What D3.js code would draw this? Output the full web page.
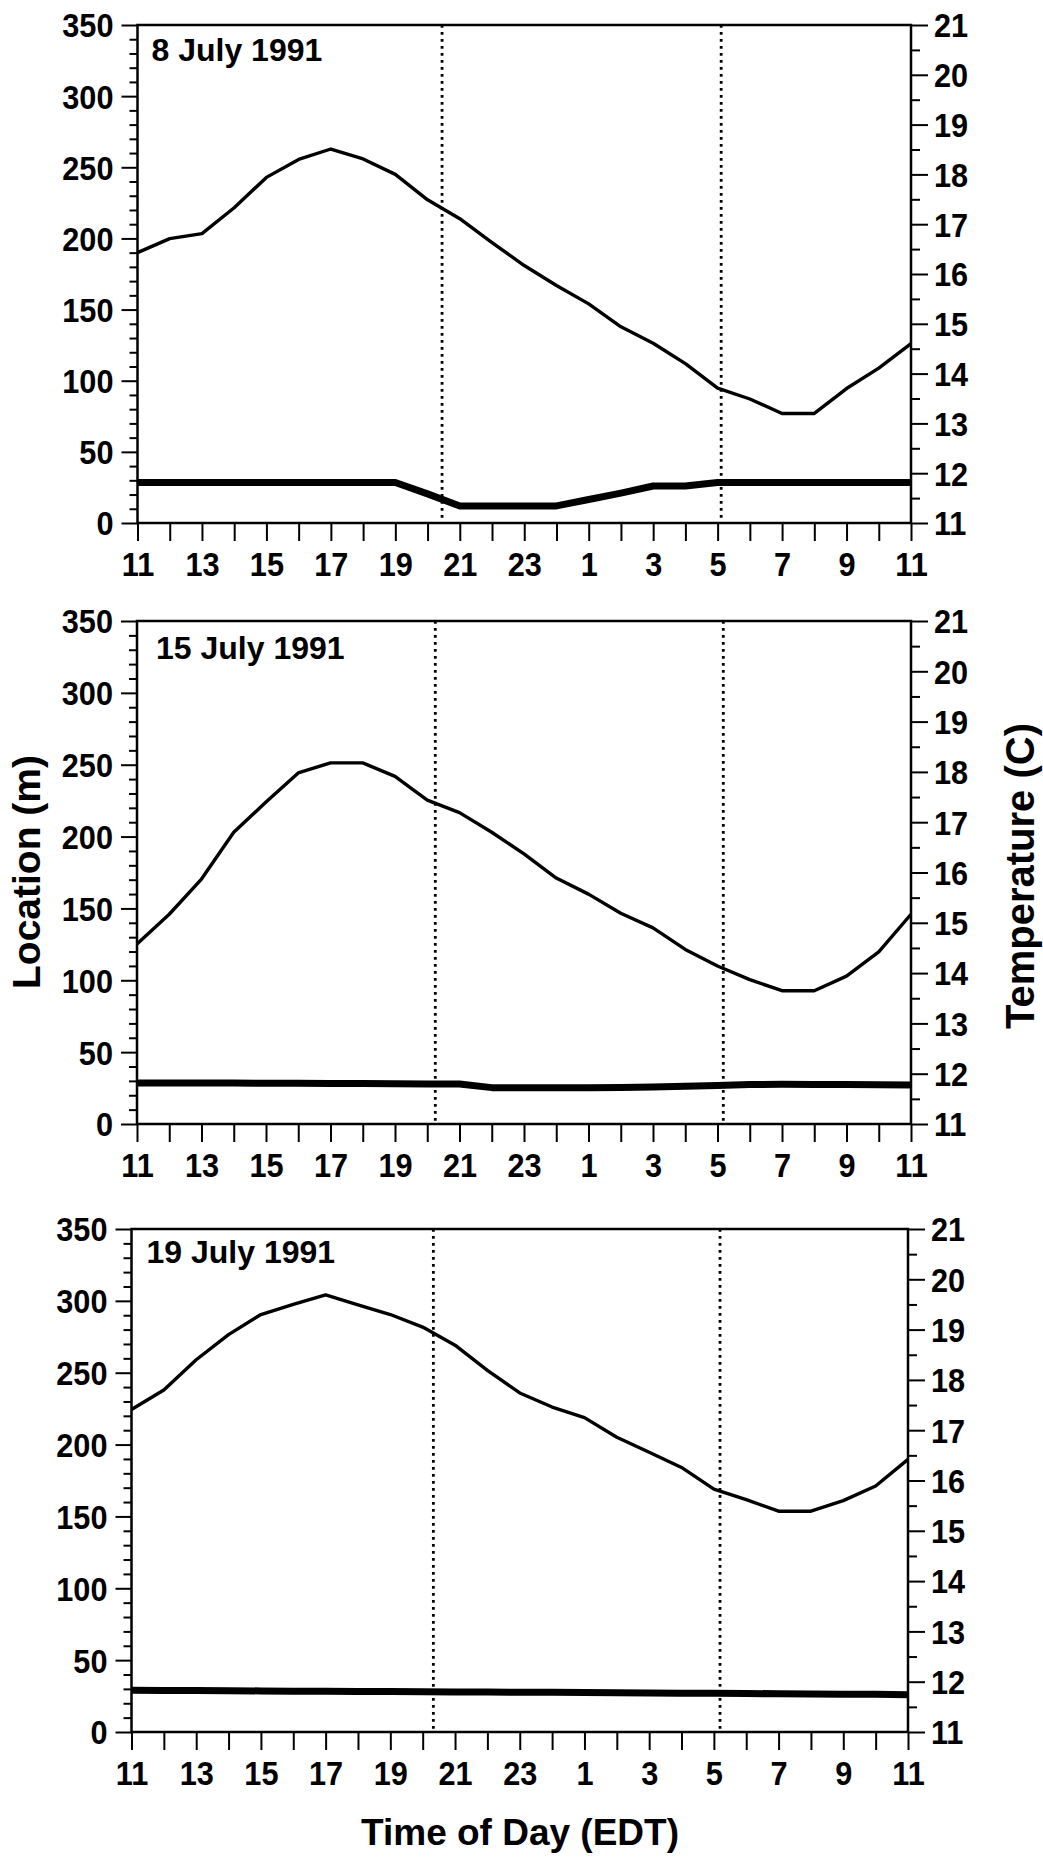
<!DOCTYPE html>
<html><head><meta charset="utf-8">
<script src="https://cdn.jsdelivr.net/npm/d3@7/dist/d3.min.js"></script>
<style>
body{margin:0;background:#fff}
text{font-family:"Liberation Sans",Arial,sans-serif;font-weight:bold;fill:#000}
.tl text{transform-box:fill-box;transform-origin:right center;transform:scaleX(0.93)}
.tr text{transform-box:fill-box;transform-origin:left center;transform:scaleX(0.93)}
.tb text{transform-box:fill-box;transform-origin:center center;transform:scaleX(0.93)}
</style>
</head><body>
<svg id="chart" width="1043" height="1859"></svg>
<script>
// ---- data ----
// hourly samples, 11:00 EDT through 11:00 next day (index 0..24)
const timeOfDay = [11,12,13,14,15,16,17,18,19,20,21,22,23,0,1,2,3,4,5,6,7,8,9,10,11];
const xTickLabels = ["11","13","15","17","19","21","23","1","3","5","7","9","11"];
const dates = ["8 July 1991","15 July 1991","19 July 1991"];

// Temperature (C), thin line, right axis
const temp_8July = [16.43,16.71,16.81,17.33,17.94,18.30,18.51,18.31,18.00,17.49,17.11,16.63,16.17,15.77,15.40,14.94,14.61,14.20,13.71,13.49,13.20,13.20,13.70,14.11,14.60];
const temp_15July = [14.58,15.17,15.87,16.80,17.40,17.98,18.18,18.18,17.91,17.44,17.19,16.80,16.37,15.89,15.57,15.19,14.90,14.47,14.14,13.87,13.65,13.65,13.94,14.42,15.17];
const temp_19July = [17.41,17.80,18.40,18.90,19.30,19.50,19.69,19.49,19.30,19.05,18.69,18.19,17.74,17.46,17.25,16.86,16.56,16.26,15.83,15.62,15.39,15.39,15.60,15.89,16.42];

// Location (m), thick line, left axis
const loc_8July = [28.5,28.5,28.5,28.5,28.5,28.5,28.5,28.5,28.5,20.5,12,12,12,12,16.5,21,26,26,28.5,28.5,28.5,28.5,28.5,28.5,28.5];
const loc_15July = [28.6,28.6,28.5,28.5,28.4,28.3,28.2,28.1,28.0,27.9,27.9,25.3,25.2,25.2,25.2,25.4,25.7,26.2,26.8,27.4,27.6,27.5,27.4,27.3,27.2];
const loc_19July = [29.0,28.9,28.8,28.7,28.6,28.4,28.3,28.2,28.1,28.0,27.9,27.8,27.7,27.6,27.5,27.3,27.2,27.0,26.9,26.8,26.6,26.5,26.3,26.2,26.0];

// dotted lines (hour of day, EDT): sunset, sunrise
const sunset = [20.45,20.25,20.33];
const sunrise = [5.11,5.18,5.19];

const locTicks = [0,50,100,150,200,250,300,350];
const tempTicks = [11,12,13,14,15,16,17,18,19,20,21];

// ---- layout ----
const panels = [
  {left:137.5, right:911, top:25, bottom:523, dateX:14, dateY:36},
  {left:137, right:911, top:621, bottom:1124, dateX:19, dateY:38},
  {left:131.5, right:908, top:1229, bottom:1732, dateX:15, dateY:34}
];
const tempSeries = [temp_8July, temp_15July, temp_19July];
const locSeries = [loc_8July, loc_15July, loc_19July];

const svg = d3.select("#chart");

function hourToIndex(h){ return h >= 11 ? h - 11 : h + 13; }

const tickFont = "33px";

panels.forEach((p, k) => {
  const g = svg.append("g");
  const x = d3.scaleLinear().domain([0,24]).range([p.left, p.right]);
  const yL = d3.scaleLinear().domain([0,350]).range([p.bottom, p.top]);
  const yR = d3.scaleLinear().domain([11,21]).range([p.bottom, p.top]);

  // minor ticks left
  g.append("g").attr("transform",`translate(${p.left},0)`)
    .call(d3.axisLeft(yL).tickValues(d3.range(0,351,10).filter(v=>v%50!==0)).tickSize(8).tickFormat(""))
    .call(a=>a.select(".domain").remove())
    .call(a=>a.selectAll("line").attr("stroke","#000").attr("stroke-width",2));
  // major ticks left
  g.append("g").attr("class","tl").attr("transform",`translate(${p.left},0)`)
    .call(d3.axisLeft(yL).tickValues(locTicks).tickSize(16).tickPadding(8))
    .call(a=>a.select(".domain").remove())
    .call(a=>a.selectAll("line").attr("stroke","#000").attr("stroke-width",2))
    .call(a=>a.selectAll("text").style("font-size",tickFont).attr("font-family",null).attr("dy","0.36em"));

  // right minor
  g.append("g").attr("transform",`translate(${p.right},0)`)
    .call(d3.axisRight(yR).tickValues(d3.range(11.5,21,1)).tickSize(9).tickFormat(""))
    .call(a=>a.select(".domain").remove())
    .call(a=>a.selectAll("line").attr("stroke","#000").attr("stroke-width",2));
  g.append("g").attr("class","tr").attr("transform",`translate(${p.right},0)`)
    .call(d3.axisRight(yR).tickValues(tempTicks).tickSize(17).tickPadding(6))
    .call(a=>a.select(".domain").remove())
    .call(a=>a.selectAll("line").attr("stroke","#000").attr("stroke-width",2))
    .call(a=>a.selectAll("text").style("font-size",tickFont).attr("font-family",null).attr("dy","0.36em"));

  // bottom
  g.append("g").attr("class","tb").attr("transform",`translate(0,${p.bottom})`)
    .call(d3.axisBottom(x).tickValues(d3.range(0,25)).tickSize(18).tickPadding(12)
      .tickFormat(i => i % 2 === 0 ? xTickLabels[i/2] : ""))
    .call(a=>a.select(".domain").remove())
    .call(a=>a.selectAll("line").attr("stroke","#000").attr("stroke-width",2))
    .call(a=>a.selectAll("text").style("font-size",tickFont).attr("font-family",null));

  // frame
  g.append("rect").attr("x",p.left).attr("y",p.top)
    .attr("width",p.right-p.left).attr("height",p.bottom-p.top)
    .attr("fill","none").attr("stroke","#000").attr("stroke-width",2.5);

  // dotted lines
  [sunset[k], sunrise[k]].forEach(h => {
    const xi = x(hourToIndex(h));
    g.append("line").attr("x1",xi).attr("x2",xi).attr("y1",p.top).attr("y2",p.bottom)
      .attr("stroke","#000").attr("stroke-width",2.8).attr("stroke-dasharray","2.8,4.2");
  });

  // temperature (thin)
  g.append("path").datum(tempSeries[k])
    .attr("fill","none").attr("stroke","#000").attr("stroke-width",3.4).attr("stroke-linejoin","round")
    .attr("d", d3.line().x((d,i)=>x(i)).y(d=>yR(d)));
  // location (thick)
  g.append("path").datum(locSeries[k])
    .attr("fill","none").attr("stroke","#000").attr("stroke-width",7).attr("stroke-linejoin","round")
    .attr("d", d3.line().x((d,i)=>x(i)).y(d=>yL(d)));

  // date label
  g.append("text").attr("x",p.left+p.dateX).attr("y",p.top+p.dateY)
    .style("font-size","32px").text(dates[k]);
});

// axis titles
svg.append("text").attr("transform","translate(40,872) rotate(-90)")
  .attr("text-anchor","middle").style("font-size","39px").text("Location (m)");
svg.append("text").attr("transform","translate(1034,876) rotate(-90)")
  .attr("text-anchor","middle").style("font-size","40px").text("Temperature (C)");
svg.append("text").attr("x",520).attr("y",1845)
  .attr("text-anchor","middle").style("font-size","37px").text("Time of Day (EDT)");
</script>
</body></html>
